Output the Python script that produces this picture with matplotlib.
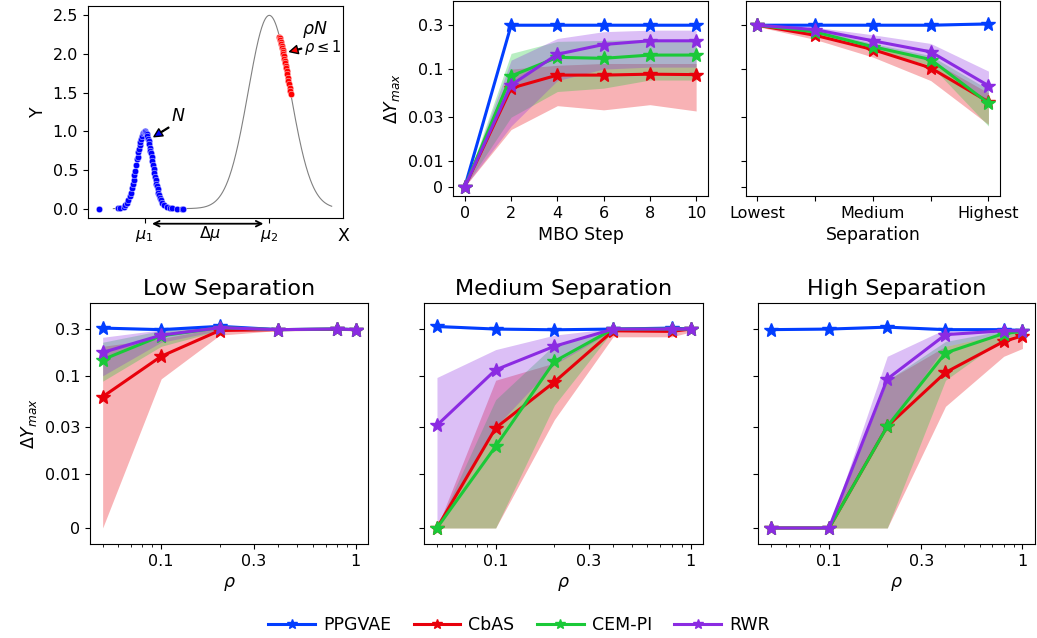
import numpy as np
import matplotlib.pyplot as plt
from matplotlib.ticker import NullFormatter

# --- colours (seaborn "bright") ---
methods = ['PPGVAE', 'CbAS', 'CEM-PI', 'RWR']
colors = {'PPGVAE': '#023eff', 'CbAS': '#e8000b', 'CEM-PI': '#1ac938', 'RWR': '#8b2be2'}

# --- toy problem (top left) ---
mu1, sig1, amp1 = 0.0, 1.0, 1.0
mu2, sig2, amp2 = 16.0, 2.7, 2.5
blue_x = [-5.8, -3.46, -3.12, -2.69, -2.45, -2.26, -2.1, -1.92, -1.8, -1.62, -1.5, -1.41, -1.3,
          -1.19, -1.06, -0.95, -0.89, -0.8, -0.72, -0.62, -0.55, -0.45, -0.34, -0.22, -0.12,
          0.0, 0.1, 0.18, 0.27, 0.35, 0.45, 0.52, 0.6, 0.69, 0.76, 0.82, 0.9, 0.99, 1.08,
          1.16, 1.25, 1.33, 1.42, 1.5, 1.58, 1.67, 1.78, 1.88, 2.0, 2.1, 2.3, 2.53, 2.87,
          3.21, 3.51, 4.15, 4.79, 4.92]
red_x = [17.3, 17.36, 17.42, 17.48, 17.53, 17.58, 17.64, 17.7, 17.75, 17.8, 17.86, 17.92,
         17.98, 18.04, 18.1, 18.16, 18.22, 18.3, 18.38, 18.46, 18.54, 18.62, 18.7, 18.77]

# --- MBO step panel ---
steps = [0, 2, 4, 6, 8, 10]
step_mean = {'PPGVAE': [0, 0.3, 0.3, 0.3, 0.3, 0.3],
             'CbAS': [0, 0.062, 0.086, 0.086, 0.088, 0.087],
             'CEM-PI': [0, 0.084, 0.134, 0.131, 0.142, 0.142],
             'RWR': [0, 0.067, 0.145, 0.185, 0.203, 0.203]}
step_lo = {'PPGVAE': [0, 0.295, 0.295, 0.295, 0.295, 0.295],
           'CbAS': [0, 0.022, 0.040, 0.036, 0.041, 0.035],
           'CEM-PI': [0, 0.03, 0.057, 0.062, 0.076, 0.076],
           'RWR': [0, 0.024, 0.075, 0.1, 0.105, 0.105]}
step_hi = {'PPGVAE': [0, 0.305, 0.305, 0.305, 0.305, 0.305],
           'CbAS': [0, 0.1, 0.11, 0.115, 0.115, 0.115],
           'CEM-PI': [0, 0.148, 0.2, 0.205, 0.21, 0.21],
           'RWR': [0, 0.125, 0.215, 0.255, 0.265, 0.265]}

# --- separation panel ---
sep_x = [0, 1, 2, 3, 4]
sep_labels = ['Lowest', '', 'Medium', '', 'Highest']
sep_mean = {'PPGVAE': [0.3, 0.3, 0.3, 0.3, 0.31],
            'CbAS': [0.3, 0.233, 0.163, 0.103, 0.044],
            'CEM-PI': [0.3, 0.254, 0.175, 0.127, 0.0425],
            'RWR': [0.3, 0.269, 0.203, 0.154, 0.066]}
sep_lo = {'PPGVAE': [0.295, 0.295, 0.295, 0.295, 0.3],
          'CbAS': [0.29, 0.21, 0.135, 0.075, 0.025],
          'CEM-PI': [0.295, 0.24, 0.16, 0.11, 0.024],
          'RWR': [0.295, 0.25, 0.18, 0.125, 0.045]}
sep_hi = {'PPGVAE': [0.305, 0.305, 0.305, 0.305, 0.315],
          'CbAS': [0.305, 0.255, 0.185, 0.125, 0.055],
          'CEM-PI': [0.305, 0.27, 0.19, 0.14, 0.06],
          'RWR': [0.305, 0.285, 0.236, 0.19, 0.095]}

# --- rho panels ---
rho = [0.05, 0.1, 0.2, 0.4, 0.8, 1.0]
low_mean = {'PPGVAE': [0.307, 0.296, 0.32, 0.296, 0.3, 0.296],
            'CbAS': [0.061, 0.158, 0.29, 0.296, 0.298, 0.296],
            'CEM-PI': [0.146, 0.256, 0.31, 0.296, 0.3, 0.296],
            'RWR': [0.173, 0.26, 0.31, 0.296, 0.3, 0.296]}
low_lo = {'PPGVAE': [0.3, 0.29, 0.31, 0.29, 0.295, 0.29],
          'CbAS': [0.0, 0.093, 0.26, 0.29, 0.29, 0.29],
          'CEM-PI': [0.088, 0.2, 0.29, 0.29, 0.29, 0.29],
          'RWR': [0.1, 0.22, 0.29, 0.29, 0.29, 0.29]}
low_hi = {'PPGVAE': [0.315, 0.3, 0.33, 0.3, 0.305, 0.3],
          'CbAS': [0.2, 0.24, 0.31, 0.3, 0.305, 0.3],
          'CEM-PI': [0.22, 0.29, 0.32, 0.3, 0.305, 0.3],
          'RWR': [0.247, 0.295, 0.325, 0.3, 0.305, 0.3]}

med_mean = {'PPGVAE': [0.319, 0.3, 0.295, 0.3, 0.307, 0.3],
            'CbAS': [0.0, 0.0293, 0.0863, 0.288, 0.284, 0.3],
            'CEM-PI': [0.0, 0.019, 0.14, 0.3, 0.3, 0.3],
            'RWR': [0.0312, 0.115, 0.2, 0.3, 0.3, 0.3]}
med_lo = {'PPGVAE': [0.31, 0.295, 0.29, 0.295, 0.3, 0.295],
          'CbAS': [0, 0, 0.0356, 0.25, 0.25, 0.28],
          'CEM-PI': [0, 0, 0.05, 0.29, 0.29, 0.29],
          'RWR': [0, 0.03, 0.13, 0.29, 0.29, 0.29]}
med_hi = {'PPGVAE': [0.325, 0.305, 0.3, 0.305, 0.315, 0.305],
          'CbAS': [0, 0.09, 0.135, 0.3, 0.3, 0.305],
          'CEM-PI': [0, 0.057, 0.207, 0.305, 0.305, 0.305],
          'RWR': [0.096, 0.185, 0.26, 0.305, 0.305, 0.305]}

high_mean = {'PPGVAE': [0.296, 0.3, 0.314, 0.296, 0.296, 0.29],
             'CbAS': [0, 0, 0.0304, 0.108, 0.224, 0.256],
             'CEM-PI': [0, 0, 0.0304, 0.171, 0.27, 0.284],
             'RWR': [0, 0, 0.0926, 0.263, 0.288, 0.288]}
high_lo = {'PPGVAE': [0.29, 0.295, 0.305, 0.29, 0.29, 0.285],
           'CbAS': [0, 0, 0, 0.0487, 0.158, 0.19],
           'CEM-PI': [0, 0, 0, 0.09, 0.24, 0.27],
           'RWR': [0, 0, 0.03, 0.2, 0.27, 0.27]}
high_hi = {'PPGVAE': [0.3, 0.305, 0.32, 0.3, 0.3, 0.295],
           'CbAS': [0, 0, 0.09, 0.2, 0.27, 0.29],
           'CEM-PI': [0, 0, 0.09, 0.224, 0.29, 0.3],
           'RWR': [0, 0, 0.158, 0.3, 0.3, 0.3]}

yticks = [0, 0.01, 0.03, 0.1, 0.3]
ytick_labels = ['0', '0.01', '0.03', '0.1', '0.3']

TICK_FS = 11.5
LABEL_FS = 12.5
TITLE_FS = 16

W, H = 1037, 638
fig = plt.figure(figsize=(W / 100, H / 100), dpi=100)


def add_ax(l, r, t, b, **kw):
    return fig.add_axes([l / W, 1 - b / H, (r - l) / W, (b - t) / H], **kw)


def draw_curves(ax, x, mean, lo, hi):
    for m in methods:
        ax.fill_between(x, lo[m], hi[m], color=colors[m], alpha=0.3, lw=0)
    for m in methods:
        ax.plot(x, mean[m], color=colors[m], lw=2.2, marker='*', ms=10, label=m)


# ---------- top left: illustration ----------
ax0 = add_ax(87.7, 343.3, 5.7, 218.3)
xs = np.linspace(-4, 24, 400)
gauss = lambda x: amp1 * np.exp(-(np.asarray(x) - mu1) ** 2 / (2 * sig1 ** 2)) + \
    amp2 * np.exp(-(np.asarray(x) - mu2) ** 2 / (2 * sig2 ** 2))
ax0.plot(xs, gauss(xs), color='gray', lw=0.8)
ax0.scatter(blue_x, gauss(blue_x), s=22, color='#0000ff', edgecolor='white', linewidth=0.3, zorder=3)
ax0.scatter(red_x, gauss(red_x), s=22, color='#ff0000', edgecolor='white', linewidth=0.3, zorder=3)
ax0.set_xlim(-5.8 - 1.49, 24 + 1.49)
ax0.set_xticks([mu1, mu2], [r'$\mu_1$', r'$\mu_2$'])
ax0.tick_params(labelsize=TICK_FS)
ax0.set_ylabel('Y', fontsize=LABEL_FS)
ax0.text(3.4, 1.2, '$N$', fontsize=LABEL_FS, va='center')
ax0.annotate('', xy=(1.2, 0.93), xytext=(3.1, 1.05),
             arrowprops=dict(facecolor='blue', edgecolor='black', width=0.6, headwidth=6,
                             headlength=6, shrink=0.0))
ax0.text(20.2, 2.32, r'$\rho N$', fontsize=LABEL_FS, va='center')
ax0.annotate(r'$\rho \leq 1$', xy=(18.6, 2.03), xytext=(20.5, 2.08), fontsize=10.5, va='center',
             arrowprops=dict(facecolor='red', edgecolor='black', width=0.6, headwidth=6,
                             headlength=6, shrink=0.0))
ax0.annotate('', xy=(15.6, -0.195), xytext=(0.6, -0.195), annotation_clip=False,
             arrowprops=dict(arrowstyle='<->', lw=1.3, color='black'))
ax0.text(8.4, -0.325, r'$\Delta\mu$', fontsize=TICK_FS, ha='center', va='center', clip_on=False)
ax0.text(1.0, -0.36, 'X', transform=ax0.get_yaxis_transform(), fontsize=LABEL_FS,
         ha='center', va='center')

# ---------- top middle: MBO steps ----------
ax1 = add_ax(453.3, 707.7, 1, 196)
ax1.set_yscale('symlog', linthresh=0.01, linscale=0.25)
draw_curves(ax1, steps, step_mean, step_lo, step_hi)
ax1.set_ylim(-0.0037, 0.55)
ax1.set_yticks(yticks, ytick_labels)
ax1.yaxis.set_minor_formatter(NullFormatter())
ax1.tick_params(axis='y', which='minor', left=False)
ax1.set_xticks(steps)
ax1.set_xlabel('MBO Step', fontsize=LABEL_FS)
ax1.set_ylabel(r'$\Delta Y_{max}$', fontsize=LABEL_FS)
ax1.tick_params(labelsize=TICK_FS)

# ---------- top right: separation ----------
ax2 = add_ax(745.7, 1000, 1, 196, sharey=ax1)
draw_curves(ax2, sep_x, sep_mean, sep_lo, sep_hi)
ax2.set_xticks(sep_x, sep_labels)
ax2.set_xlabel('Separation', fontsize=LABEL_FS)
ax2.tick_params(labelsize=TICK_FS)
ax2.tick_params(axis='y', labelleft=False)

# ---------- bottom row ----------
bottom = [('Low Separation', 90, 368.3, low_mean, low_lo, low_hi),
          ('Medium Separation', 424.3, 703.3, med_mean, med_lo, med_hi),
          ('High Separation', 758.3, 1035, high_mean, high_lo, high_hi)]
first = None
for i, (title, l, r, mean, lo, hi) in enumerate(bottom):
    ax = add_ax(l, r, 303.3, 544.3, sharey=first) if first is not None else add_ax(l, r, 303.3, 544.3)
    if first is None:
        first = ax
        ax.set_yscale('symlog', linthresh=0.01, linscale=0.5)
    ax.set_xscale('log')
    draw_curves(ax, rho, mean, lo, hi)
    ax.set_xticks([0.1, 0.3, 1], ['0.1', '0.3', '1'])
    ax.xaxis.set_minor_formatter(NullFormatter())
    ax.set_ylim(-0.003, 0.55)
    ax.set_yticks(yticks, ytick_labels)
    ax.tick_params(axis='y', which='minor', left=False)
    ax.set_xlabel(r'$\rho$', fontsize=LABEL_FS)
    ax.set_title(title, fontsize=TITLE_FS)
    ax.tick_params(labelsize=TICK_FS)
    if i == 0:
        ax.set_ylabel(r'$\Delta Y_{max}$', fontsize=LABEL_FS)
    else:
        ax.tick_params(axis='y', labelleft=False)

handles, labels = first.get_legend_handles_labels()
fig.legend(handles, labels, loc='center', bbox_to_anchor=(519 / W, 1 - 625 / H), ncol=4,
           frameon=False, fontsize=12.5, handlelength=2.7, handletextpad=0.45,
           columnspacing=1.3, markerscale=0.7)

fig.savefig('out.png', dpi=100)
